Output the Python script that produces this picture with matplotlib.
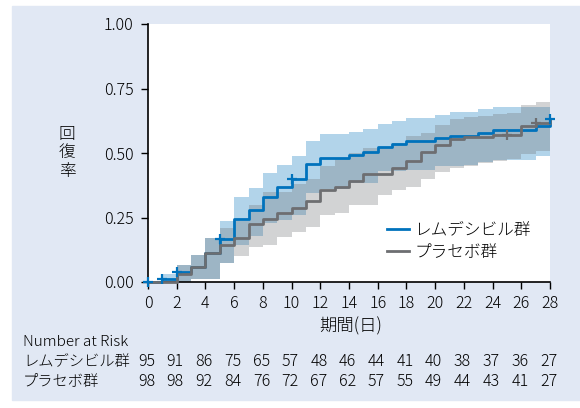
import numpy as np
import matplotlib
matplotlib.use("Agg")
import matplotlib.pyplot as plt
from matplotlib.patches import Rectangle

plt.rcParams["font.family"] = ["Noto Sans CJK JP", "DejaVu Sans"]
plt.rcParams["font.weight"] = "light"

# days 0..28, value holds from day d until d+1 (last entry = value at day 28)
days = np.arange(0, 29)

remdesivir = [0, 0.012, 0.04, 0.058, 0.112, 0.165, 0.244, 0.279, 0.330, 0.367,
              0.399, 0.457, 0.481, 0.481, 0.492, 0.503, 0.525, 0.535, 0.546, 0.546,
              0.557, 0.567, 0.567, 0.579, 0.590, 0.590, 0.590, 0.603, 0.632]
remdesivir_hi = [0, 0.03, 0.066, 0.105, 0.172, 0.236, 0.328, 0.363, 0.421, 0.455,
                 0.490, 0.548, 0.572, 0.572, 0.583, 0.592, 0.612, 0.624, 0.636, 0.636,
                 0.647, 0.658, 0.658, 0.669, 0.679, 0.679, 0.679, 0.679, 0.679]
remdesivir_lo = [0, 0, 0, 0.01, 0.012, 0.072, 0.145, 0.179, 0.227, 0.240,
                 0.260, 0.344, 0.360, 0.360, 0.385, 0.385, 0.430, 0.430, 0.434, 0.434,
                 0.450, 0.450, 0.455, 0.466, 0.473, 0.473, 0.473, 0.488, 0.488]

placebo = [0, 0, 0.032, 0.058, 0.112, 0.142, 0.172, 0.226, 0.246, 0.267,
           0.285, 0.315, 0.357, 0.368, 0.392, 0.420, 0.420, 0.441, 0.470, 0.502,
           0.531, 0.553, 0.563, 0.563, 0.571, 0.571, 0.603, 0.615, 0.625]
placebo_hi = [0, 0, 0.066, 0.105, 0.172, 0.208, 0.236, 0.298, 0.350, 0.350,
              0.380, 0.400, 0.450, 0.480, 0.500, 0.520, 0.520, 0.540, 0.565, 0.576,
              0.609, 0.630, 0.640, 0.645, 0.650, 0.655, 0.685, 0.697, 0.697]
placebo_lo = [0, 0, 0, 0.01, 0.012, 0.072, 0.100, 0.137, 0.143, 0.173,
              0.195, 0.214, 0.260, 0.266, 0.300, 0.300, 0.337, 0.357, 0.370, 0.398,
              0.427, 0.440, 0.450, 0.460, 0.470, 0.475, 0.498, 0.509, 0.509]

# censoring marks (days)
remdesivir_censor = [0, 1, 2, 5, 10, 28]
placebo_censor = [25, 27]

risk_days = list(range(0, 29, 2))
risk_remdesivir = [95, 91, 86, 75, 65, 57, 48, 46, 44, 41, 40, 38, 37, 36, 27]
risk_placebo = [98, 98, 92, 84, 76, 72, 67, 62, 57, 55, 49, 44, 43, 41, 27]

labels = ["レムデシビル群", "プラセボ群"]
blue = "#0072bc"
grey = "#6d6e71"

W, H = 580, 408
fig = plt.figure(figsize=(W / 100, H / 100), dpi=100)
fig.patch.set_facecolor("white")
fig.patches.append(Rectangle((12 / W, 8 / H), 568 / W, 394 / H,
                             transform=fig.transFigure, color="#e1e8f4", zorder=-10))

ax = fig.add_axes([148 / W, 1 - 282 / H, 402 / W, 258 / H])
ax.set_facecolor("white")

ax.fill_between(days, remdesivir_lo, remdesivir_hi, step="post",
                color=blue, alpha=0.3, linewidth=0)
ax.fill_between(days, placebo_lo, placebo_hi, step="post",
                color=grey, alpha=0.3, linewidth=0)

ax.step(days, remdesivir, where="post", color=blue, lw=2, label=labels[0],
        clip_on=False, zorder=3)
ax.step(days, placebo, where="post", color=grey, lw=2, label=labels[1],
        clip_on=False, zorder=4)

rem = np.array(remdesivir)
pla = np.array(placebo)
ax.plot(remdesivir_censor, rem[remdesivir_censor], "+", color=blue, ms=6.5, mew=1.6,
        clip_on=False, zorder=5)
ax.plot(placebo_censor, pla[placebo_censor], "+", color=grey, ms=6.5, mew=1.6,
        clip_on=False, zorder=5)

ax.set_xlim(0, 28)
ax.set_ylim(0, 1)
ax.set_xticks(risk_days)
ax.set_yticks([0, 0.25, 0.5, 0.75, 1.0])
ax.set_yticklabels(["0.00", "0.25", "0.50", "0.75", "1.00"])
ax.tick_params(labelsize=11.5, length=5, width=1, direction="out", colors="black")
ax.tick_params(axis="y", pad=5.5)
ax.tick_params(axis="x", pad=4.5)
for s in ["top", "right"]:
    ax.spines[s].set_visible(False)
for s in ["left", "bottom"]:
    ax.spines[s].set_linewidth(1.2)

fig.text(67 / W, 1 - 153 / H, "回\n復\n率", fontsize=12, ha="center", va="center",
         linespacing=1.15)
fig.text(351 / W, 1 - 326 / H, "期間(日)", fontsize=12.5, ha="center", va="center")

ax.legend(loc="center left", bbox_to_anchor=(387 / W, 1 - 241 / H),
          bbox_transform=fig.transFigure, frameon=False, fontsize=12,
          handlelength=1.35, handletextpad=0.3, labelspacing=0.3,
          borderpad=0, borderaxespad=0)

fig.text(23 / W, 1 - 342 / H, "Number at Risk", fontsize=11, ha="left", va="center")
rows = [(labels[0], risk_remdesivir, 362), (labels[1], risk_placebo, 382)]
tr = matplotlib.transforms.blended_transform_factory(ax.transData, fig.transFigure)
for name, vals, ypx in rows:
    fig.text(23 / W, 1 - ypx / H, name, fontsize=11, ha="left", va="center")
    for d, v in zip(risk_days, vals):
        ax.text(d - 0.1, 1 - ypx / H, str(v), transform=tr, fontsize=11.5,
                ha="center", va="center", clip_on=False)

fig.savefig("out.png", dpi=100)
